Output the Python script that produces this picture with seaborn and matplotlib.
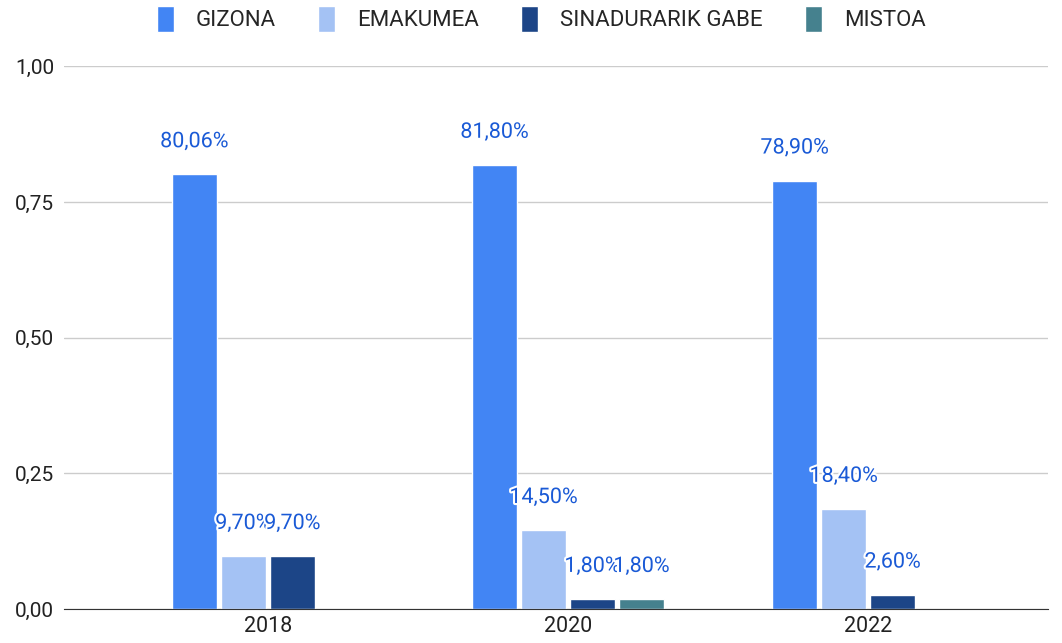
import seaborn as sns
import matplotlib.pyplot as plt
import matplotlib.patheffects as pe
import numpy as np
import pandas as pd

years = ["2018", "2020", "2022"]
series = ["GIZONA", "EMAKUMEA", "SINADURARIK GABE", "MISTOA"]
gizona = [0.8006, 0.8180, 0.7890]
emakumea = [0.0970, 0.1450, 0.1840]
sinadurarik_gabe = [0.0970, 0.0180, 0.0260]
mistoa = [np.nan, 0.0180, np.nan]
colors = ["#4285f4", "#a4c2f4", "#1c4587", "#45818e"]

rows = []
for name, vals in zip(series, [gizona, emakumea, sinadurarik_gabe, mistoa]):
    for y, v in zip(years, vals):
        rows.append({"year": y, "series": name, "value": v})
df = pd.DataFrame(rows)

sns.set_style("white")
plt.rcParams['font.family'] = ['Roboto', 'DejaVu Sans']

fig = plt.figure(figsize=(10.62, 6.43), dpi=100)
ax = fig.add_axes([0.060, 0.053, 0.927, 0.844])

sns.barplot(data=df, x="year", y="value", hue="series", hue_order=series,
            palette=colors, width=0.653, gap=0.08, saturation=1,
            ax=ax, legend=True)

## data labels, one per drawn bar
for cont in ax.containers:
    for bar in cont:
        if bar is None:
            continue
        h = bar.get_height()
        if np.isnan(h):
            continue
        xc = bar.get_x() + bar.get_width() / 2
        ax.annotate(f"{h*100:.2f}%".replace(".", ","), (xc, h),
                    xytext=(0, 16), textcoords="offset points",
                    ha="center", va="bottom", color="#1a5ad6", fontsize=15.5,
                    path_effects=[pe.withStroke(linewidth=3, foreground="white")])

ax.set_ylim(0, 1)
ax.set_xlim(-0.68, 2.6)
ax.set_yticks([0, 0.25, 0.5, 0.75, 1.0])
ax.set_yticklabels(["0,00", "0,25", "0,50", "0,75", "1,00"])
ax.yaxis.grid(True, color="#cccccc", linewidth=1)
ax.set_axisbelow(True)
ax.tick_params(axis="x", length=0, labelsize=15.5, colors="#222222", pad=5)
ax.tick_params(axis="y", length=0, labelsize=15, colors="#222222", pad=7)
for s in ["top", "right", "left"]:
    ax.spines[s].set_visible(False)
ax.spines["bottom"].set_color("#333333")
ax.set_xlabel("")
ax.set_ylabel("")

leg = ax.legend(loc="center", bbox_to_anchor=(0.485, 1.087), ncol=4, frameon=False,
                fontsize=16, handlelength=0.75, handleheight=1.4, columnspacing=1.9,
                handletextpad=1.0)

fig.savefig("out.png", dpi=100)
